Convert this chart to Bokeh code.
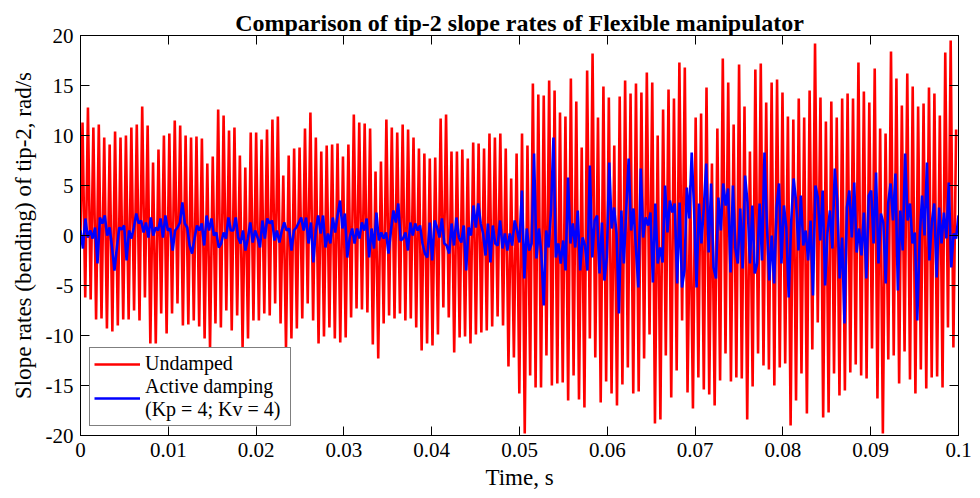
import numpy as np
from bokeh.plotting import figure
from bokeh.models import Range1d, LinearAxis, FixedTicker, Legend, LegendItem
from bokeh.embed import file_html
from bokeh.resources import INLINE

# ---- data ----
x_ticks = [0, 0.01, 0.02, 0.03, 0.04, 0.05, 0.06, 0.07, 0.08, 0.09, 0.1]
x_tick_labels = ["0", "0.01", "0.02", "0.03", "0.04", "0.05", "0.06", "0.07", "0.08", "0.09", "0.1"]
y_ticks = [-20, -15, -10, -5, 0, 5, 10, 15, 20]
y_tick_labels = ["-20", "-15", "-10", "-5", "0", "5", "10", "15", "20"]

# Undamped: successive maxima and minima of the oscillation (rad/s)
red_start_value = 0.0
red_first_extremum_time = 0.00023   # s
red_half_period = 0.000309          # s, spacing between a maximum and the next minimum
red_peaks = [
    11.3, 12.8, 10.8, 11.1, 9.8, 9.1, 10.4, 9.8, 10.0, 10.8, 11.1, 12.9, 11.0, 7.3,
    8.6, 10.0, 10.2, 11.5, 11.0, 10.0, 9.8, 9.9, 9.7, 7.2, 7.9, 12.6, 12.0, 10.5, 10.8,
    8.0, 6.8, 10.3, 10.3, 9.6, 10.6, 11.6, 11.9, 6.0, 8.0, 8.7, 8.8, 10.7, 12.3, 9.8,
    8.4, 9.0, 9.1, 9.2, 7.9, 9.1, 12.1, 11.3, 11.2, 10.7, 6.4, 7.4, 11.6, 10.8,
    10.3, 11.1, 10.6, 9.8, 8.7, 8.2, 7.7, 7.8, 11.7, 12.1, 8.4, 8.4, 8.6, 7.7, 9.3,
    9.2, 8.7, 10.2, 9.8, 10.2, 8.7, 5.7, 8.2, 10.2, 9.0, 15.2, 14.1, 14.0, 15.5, 14.5,
    12.3, 11.9, 15.7, 13.4, 8.8, 16.5, 18.2, 11.8, 14.9, 13.8, 9.0, 13.9, 15.5, 14.2, 15.2,
    14.3, 16.3, 15.3, 10.0, 12.6, 14.6, 13.7, 17.3, 16.8, 5.0, 11.8, 12.2, 14.8, 7.2, 10.7,
    17.7, 15.3, 11.1, 17.1, 12.9, 8.4, 16.6, 17.2, 13.3, 15.3, 15.6, 14.3, 11.9, 11.6, 13.7,
    11.8, 14.5, 19.2, 13.8, 11.4, 13.4, 11.8, 13.7, 14.2, 13.7, 17.3, 14.4, 13.3, 16.7, 10.7,
    10.2, 18.4, 15.7, 13.0, 16.2, 14.9, 12.9, 13.2, 14.8, 14.2, 12.0, 18.3, 19.5, 10.6,
]
red_troughs = [
    -6.2, -6.4, -8.4, -8.3, -9.3, -9.6, -9.0, -8.4, -8.4, -7.5, -8.5, -6.2, -10.8, -10.8,
    -7.8, -9.8, -7.8, -6.8, -9.0, -8.9, -8.5, -9.1, -10.3, -11.3, -8.8, -9.2, -7.5, -9.5,
    -8.0, -11.2, -10.3, -8.5, -8.5, -7.8, -8.0, -6.8, -8.8, -11.2, -10.3, -9.3, -8.3, -6.8, -8.5,
    -10.8, -10.1, -9.2, -10.3, -10.7, -10.2, -8.2, -7.3, -7.4, -7.7, -10.9, -12.3, -8.8, -8.0, -8.3,
    -7.8, -8.5, -8.3, -9.2, -11.5, -10.8, -11.0, -9.9, -7.2, -8.2, -11.7, -10.2, -10.1, -10.8, -9.9,
    -9.7, -9.5, -9.1, -8.1, -9.0, -13.1, -12.2, -15.8, -19.8, -14.0, -15.2, -15.2, -12.0, -15.0, -14.8,
    -14.7, -16.5, -14.0, -16.4, -17.2, -10.3, -12.2, -16.7, -14.6, -15.8, -17.0, -14.9, -13.2, -15.8,
    -15.6, -12.3, -9.9, -18.8, -18.4, -12.0, -16.2, -13.5, -8.5, -15.7, -17.3, -14.2, -15.4, -15.9, -17.0,
    -14.5, -11.8, -14.6, -14.2, -14.3, -18.4, -15.1, -11.8, -13.0, -13.4, -15.0, -13.2, -12.8, -19.0, -16.5,
    -13.8, -17.8, -11.4, -8.7, -18.2, -17.7, -13.8, -16.0, -15.5, -13.7, -12.9, -14.0, -14.3, -11.3, -16.3,
    -19.8, -12.4, -12.0, -14.8, -11.6, -14.4, -15.8, -13.4, -15.3, -14.2, -14.1, -15.2, -9.2, -11.2,
]

# Active damping (Kp = 4; Kv = 4): successive turning points, evenly spaced over 0..0.1 s
blue_values = [
    0.5, -1.3, 1.7, -0.2, 0.5, -0.3, 0.8, -2.8, 1.8, 1.2, 2.0, 0.0, 0.8, -1.2, -3.5, -1.2, 0.8, 0.6, 1.0, -2.5,
    0.5, -0.3, 0.8, 2.2, 1.2, 1.5, 0.3, 1.3, -0.2, 1.8, 0.0, 0.8,
    0.5, 1.7, -0.2, 2.0, 0.5, 0.7, -1.5, 0.5, 0.8, 1.3, 3.3, 1.2, 0.8, -1.0, -1.8, -0.3, 1.0, 0.5, 1.2, -1.0,
    2.0, 0.5, 1.7, 0.0, 0.3, -1.2, -0.8, 0.3, -0.3, 1.8, 0.5,
    0.5, 1.8, -0.2, -0.8, 0.5, -1.5, -0.3, 1.3, -0.7, 0.5, -0.2, -1.2, 1.5, -0.3, 1.7, 1.2, 1.5, -0.5, 0.5, -0.7,
    0.5, 1.3, 0.5, 0.7, -1.5, 0.5, 0.8, 1.3, 1.8, 0.5,
    1.8, -0.8, 1.3, -2.7, 0.5, 2.0, 0.2, 2.0, -1.2, 0.2, -0.8, 1.8, 0.3, 2.0, 3.5, 0.7, 2.2, -2.2, -0.2, 0.7,
    -0.8, 0.7, -0.3, 1.3, 0.5, 1.7, -2.2, 0.7, -1.3, 2.3, -0.5, 0.3, -0.3, 0.3, -1.8,
    0.5, 2.5, 1.3, 3.2, -0.5, -0.3, 0.3, -1.5, 1.3, 0.0, 1.2, 0.5, 1.0, -0.8, -1.8, -2.2, 1.3, -2.5, 1.5, 0.8,
    -0.2, 1.7, -0.8, -1.0, -1.8, 1.2, -1.0, 1.8, -0.2, -0.7, 1.0, -3.5, 0.8, 0.0, 3.0,
    0.8, 3.2, 1.2, 0.2, -2.0, 1.2, -2.7, 1.0, -0.8, -1.0, 1.5, -1.3, 0.2, -1.5, 0.2, -1.0, 1.5, 0.5, -0.7, 4.5,
    -4.3, 0.7, -1.5, -0.8, 8.2, -2.3, 0.7, -1.8, -7.0, 0.5, -1.2, 2.5, 9.8, -2.2,
    -0.8, -2.8, -0.5, -3.5, 5.8, -0.8, 1.2, -1.2, 2.5, -3.5, -0.2, -1.0, -3.5, 7.0, -2.2, 1.5, 2.0, -3.8, 1.3, -4.5,
    -2.2, 7.3, 0.7, 2.8, 0.2, -7.8, 2.5, -2.8, 2.5, 7.7, 0.5, 2.7, -1.2, -5.2,
    6.7, -0.2, 1.8, 1.0, 2.3, -4.7, 3.2, -2.8, -1.2, -2.7, 5.0, 0.3, 3.5, 2.3, 3.2, -4.8, 3.3, -5.2, -3.5, 4.8,
    1.7, 8.3, 2.5, -5.2, 3.2, -0.8, 2.8, 7.2, -1.7, 5.2, -3.2, -4.3, 3.8,
    0.5, 5.2, 3.0, 4.7, -3.7, 5.0, -1.3, -2.8, 2.7, -3.3, 6.0, 3.3, -2.8, 3.0, -3.8, -2.8, 3.2, -2.5, 8.3, 1.2,
    -4.5, 0.0, -4.8, 2.8, 5.2, -2.8, 3.0, 0.8, -6.2, 1.3, 5.7, 3.5,
    -1.5, 4.0, -1.0, 0.5, -2.5, 1.5, -6.0, 5.0, 3.8, -0.5, 4.5, -5.0, 0.3, 2.5, -1.3, 6.7, 3.5, -4.3, -0.2, -8.8,
    2.8, 4.5, -0.2, 5.3, -1.7, 0.7, -2.0, 2.3, -4.3, 4.0, 4.5, -0.8, 6.3, -2.8,
    2.2, 1.3, -4.8, 3.2, 5.2, 1.5, 6.2, -5.5, 2.5, -1.5, 8.2, 1.5, 3.2, -0.8, 0.3, -8.5, -0.2, 4.0, 0.0, 7.3,
    -2.5, 1.3, 3.2, -4.2, 2.8, -0.8, 2.3, -0.3, 5.3, -3.2, 0.2, -0.3, 2.0,
]
t_start, t_end = 0.0, 0.1

# ---- build series ----
red_ext = []
for i in range(len(red_peaks)):
    red_ext.append(red_peaks[i])
    if i < len(red_troughs):
        red_ext.append(red_troughs[i])
red_t = [t_start] + [red_first_extremum_time + k * red_half_period for k in range(len(red_ext))]
red_y = [red_start_value] + red_ext

blue_t = np.linspace(t_start, t_end, len(blue_values))

FONT = "Liberation Serif"

p = figure(width=980, height=498, output_backend="svg", toolbar_location=None,
           x_range=Range1d(0, 0.1), y_range=Range1d(-20, 20),
           min_border_left=80, min_border_right=22, min_border_top=35, min_border_bottom=63,
           title="Comparison of tip-2 slope rates of Flexible manipulator")
p.title.align = "center"
p.title.text_font = FONT
p.title.text_font_style = "bold"
p.title.text_font_size = "24px"
p.title.text_color = "black"
p.title.standoff = 0
p.title.offset = 0

r_red = p.line(red_t, red_y, line_color="#ff0000", line_width=2.6)
r_blue = p.line(blue_t, blue_values, line_color="#0000ff", line_width=2.6)

p.xgrid.visible = False
p.ygrid.visible = False
p.outline_line_color = "black"
p.outline_line_width = 1
p.background_fill_color = "white"
p.border_fill_color = "white"

p.add_layout(LinearAxis(), "above")
p.add_layout(LinearAxis(), "right")

for ax in p.xaxis:
    ax.ticker = FixedTicker(ticks=x_ticks)
    ax.major_label_overrides = {t: s for t, s in zip(x_ticks, x_tick_labels)}
for ax in p.yaxis:
    ax.ticker = FixedTicker(ticks=y_ticks)
    ax.major_label_overrides = {t: s for t, s in zip(y_ticks, y_tick_labels)}

for ax in list(p.xaxis) + list(p.yaxis):
    ax.major_tick_in = 9
    ax.major_tick_out = 0
    ax.minor_tick_in = 0
    ax.minor_tick_out = 0
    ax.axis_line_color = "black"
    ax.major_tick_line_color = "black"
    ax.major_label_text_font = FONT
    ax.major_label_text_font_size = "21px"
    ax.major_label_text_color = "black"
    ax.axis_label_text_font = FONT
    ax.axis_label_text_font_style = "normal"
    ax.axis_label_text_font_size = "23px"
    ax.axis_label_text_color = "black"

# frame-only axes on top and right: ticks, no labels
p.above[0].major_label_overrides = {t: "" for t in x_ticks}
p.above[0].major_label_text_font_size = "1px"
p.above[0].major_label_standoff = 0
p.right[0].major_label_overrides = {t: "" for t in y_ticks}
p.right[0].major_label_text_font_size = "1px"
p.right[0].major_label_standoff = 0

p.below[0].axis_label = "Time, s"
p.below[0].major_label_standoff = 7
p.below[0].axis_label_standoff = 5
p.left[0].axis_label = "Slope rates (bending) of tip-2, rad/s"
p.left[0].major_label_standoff = 7
p.left[0].axis_label_standoff = 7

legend = Legend(items=[LegendItem(label="Undamped", renderers=[r_red]),
                       LegendItem(label="Active damping\n(Kp = 4; Kv = 4)", renderers=[r_blue])],
                location=(9, 9))
legend.label_text_font = FONT
legend.label_text_font_size = "20px"
legend.label_text_color = "black"
legend.glyph_width = 46
legend.label_standoff = 5
legend.label_width = 141
legend.spacing = 0
legend.padding = 4
legend.margin = 0
legend.border_line_color = "black"
legend.border_line_width = 1
legend.background_fill_alpha = 1.0
p.add_layout(legend)

open("out.html", "w").write(file_html(p, INLINE))
